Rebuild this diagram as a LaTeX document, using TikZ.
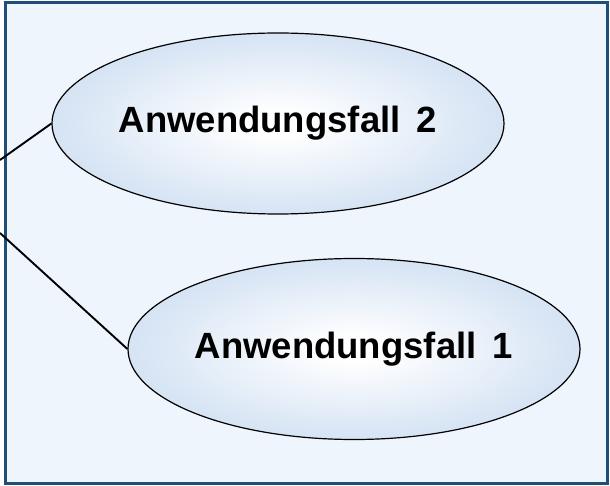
\documentclass[tikz,border=0pt]{standalone}
\usepackage{fontspec}
\setmainfont{Liberation Sans}
\usetikzlibrary{shapes.geometric}
\definecolor{framefill}{RGB}{238,245,252}
\definecolor{framedraw}{RGB}{31,78,121}
\definecolor{ucblue}{RGB}{198,217,240}
\pgfdeclareradialshading{ucshade}{\pgfpoint{0bp}{0bp}}{color(0bp)=(white); color(3bp)=(white); color(33bp)=(ucblue); color(50bp)=(ucblue)}
\tikzset{
  usecase/.style={ellipse, draw=black, line width=1.2pt, shading=ucshade,
    minimum width=452pt, minimum height=181pt, inner sep=0pt,
    font=\fontsize{36.5}{44}\selectfont\bfseries},
  assoc/.style={draw=black, line width=1.9pt},
  frame/.style={draw=framedraw, fill=framefill, line width=3pt}
}
\begin{document}
\begin{tikzpicture}[x=1pt,y=-1pt]
\useasboundingbox (0,0) rectangle (610,486);
\draw[frame] (5,3) rectangle (607.5,483);
\node[usecase] (uc2) at (278,123.5) {Anwendungsfall\hspace{0.45em}2};
\node[usecase] (uc1) at (354,349) {Anwendungsfall\hspace{0.45em}1};
\coordinate (a1) at (0,160);
\coordinate (a2) at (0,233);
\draw[assoc] (a1) -- (uc2.west);
\draw[assoc] (a2) -- (uc1.west);
\end{tikzpicture}
\end{document}
